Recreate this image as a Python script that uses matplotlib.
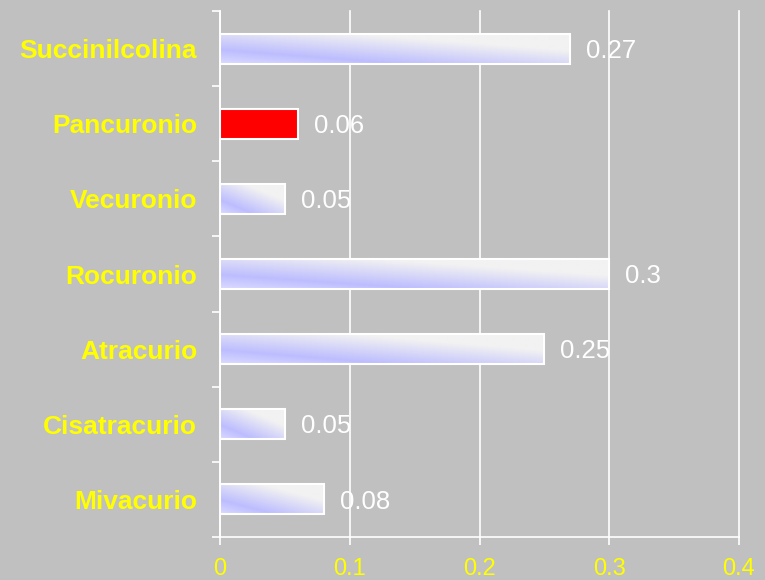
import numpy as np
import matplotlib
matplotlib.use("Agg")
import matplotlib.pyplot as plt
from matplotlib.colors import LinearSegmentedColormap

# drugs listed top to bottom, with their values
drugs = ["Succinilcolina", "Pancuronio", "Vecuronio", "Rocuronio",
         "Atracurio", "Cisatracurio", "Mivacurio"]
values = [0.27, 0.06, 0.05, 0.3, 0.25, 0.05, 0.08]
value_labels = ["0.27", "0.06", "0.05", "0.3", "0.25", "0.05", "0.08"]
highlight = "Pancuronio"
x_ticks = [0, 0.1, 0.2, 0.3, 0.4]
x_tick_labels = ["0", "0.1", "0.2", "0.3", "0.4"]

BG = "#c0c0c0"
YELLOW = "#ffff00"
WHITE = "#ffffff"

plt.rcParams["font.family"] = ["Liberation Sans", "DejaVu Sans"]

# diagonal fill: white on the right, blue band in the lower middle, lavender top-left
fill_cmap = LinearSegmentedColormap.from_list(
    "barfill",
    [(0.0, "#f2f2f2"), (0.3, "#f2f2f2"), (0.76, "#bdbdff"), (1.0, "#dadaff")])


def fill_image(n_x=200, n_y=40):
    s = np.linspace(0, 1, n_x)[None, :]
    t = np.linspace(0, 1, n_y)[:, None]  # 0 at bottom, 1 at top
    v = (1 - t) - 0.9 * s              # -0.9 .. 1
    return (v + 0.9) / 1.9


fig = plt.figure(figsize=(7.65, 5.8), dpi=100, facecolor=BG)
ax = fig.add_axes([0.2876, 0.0741, 0.966 - 0.2876, 0.981 - 0.0741])
ax.set_facecolor(BG)

n = len(drugs)
ypos = np.arange(n)[::-1]
bar_h = 0.4
img = fill_image()

for name, val, lab, y in zip(drugs, values, value_labels, ypos):
    if name == highlight:
        ax.barh(y, val, height=bar_h, color="#ff0000", edgecolor=WHITE,
                linewidth=1.5, zorder=3)
    else:
        ax.imshow(img, cmap=fill_cmap, vmin=0, vmax=1, aspect="auto",
                  origin="lower", interpolation="bilinear",
                  extent=(0, val, y - bar_h / 2, y + bar_h / 2), zorder=2)
        ax.barh(y, val, height=bar_h, color="none", edgecolor=WHITE,
                linewidth=1.5, zorder=3)
    ax.annotate(lab, xy=(val, y), xytext=(11.5, -1.5), textcoords="offset points",
                ha="left", va="center", color=WHITE, fontsize=18.5, zorder=4)

ax.set_xlim(0, 0.4)
ax.set_ylim(-0.5, n - 0.5)

ax.set_xticks(x_ticks)
ax.set_xticklabels(x_tick_labels)
ax.tick_params(axis="x", colors=WHITE, labelcolor=YELLOW, labelsize=17,
               length=6, width=1.2, pad=9)

ax.set_yticks(ypos)
ax.set_yticklabels(drugs, fontweight="bold")
ax.tick_params(axis="y", which="major", length=0, pad=16.5,
               labelcolor=YELLOW, labelsize=19)
ax.set_yticks(np.arange(n + 1) - 0.5, minor=True)
ax.tick_params(axis="y", which="minor", length=6, width=1.2, colors=WHITE)

ax.set_axisbelow(True)
ax.grid(axis="x", color=WHITE, linewidth=1.2)
for gl in ax.get_xgridlines():
    gl.set_clip_on(False)

for side in ("top", "right"):
    ax.spines[side].set_visible(False)
for side in ("left", "bottom"):
    ax.spines[side].set_color(WHITE)
    ax.spines[side].set_linewidth(1.2)

fig.savefig("out.png", dpi=100, facecolor=BG)
